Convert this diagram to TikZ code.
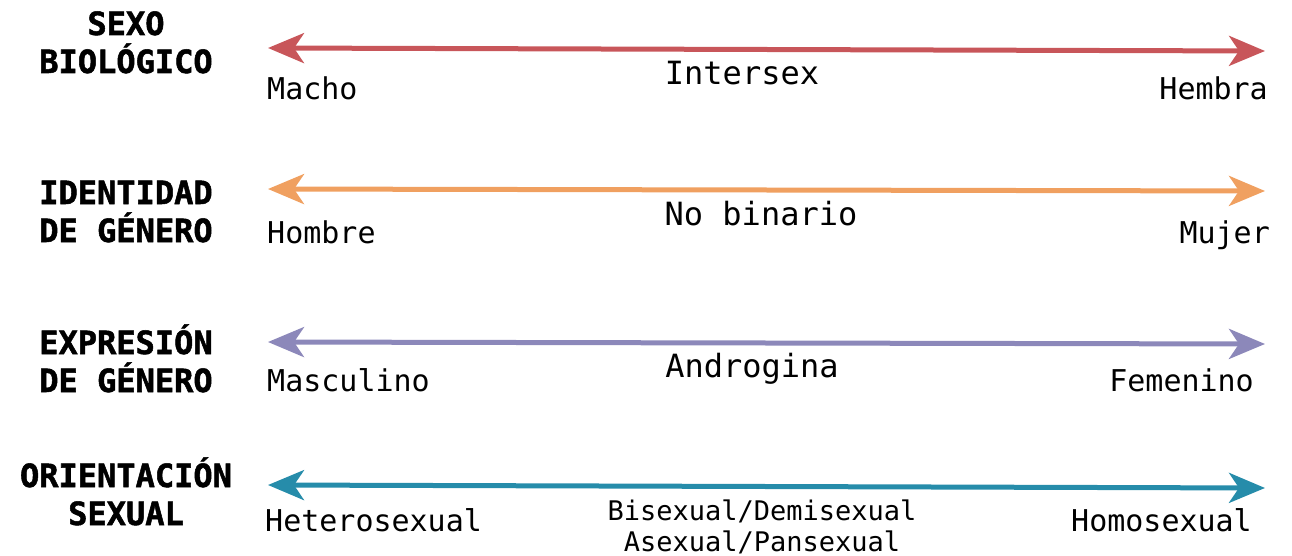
\documentclass[tikz,border=0pt]{standalone}
\usepackage{fontspec}
\setmonofont{DejaVu Sans Mono}
\newfontfamily\headfont{DejaVu Sans Mono Bold}[FakeBold=1.6]
\usepackage{xcolor}
\usetikzlibrary{arrows.meta}

\definecolor{sexred}{RGB}{200,86,90}
\definecolor{idorange}{RGB}{240,160,96}
\definecolor{exppurple}{RGB}{140,136,186}
\definecolor{oriteal}{RGB}{38,140,170}

\begin{document}
\begin{tikzpicture}[
x=1pt, y=-1pt,
    title/.style = {font=\headfont\fontsize{32}{38}\selectfont,
        align=center, anchor=base, inner sep=0pt},
    endlbl/.style = {font=\ttfamily\fontsize{30}{34}\selectfont, inner sep=0pt},
    midlbl/.style = {font=\ttfamily\fontsize{32}{38}\selectfont, anchor=base, inner sep=0pt},
    smalllbl/.style = {font=\ttfamily\fontsize{27}{31}\selectfont, align=center, anchor=base, inner sep=0pt},
    spectrum/.style = {draw=#1, line width=5pt,
        {Stealth[length=36pt, width=30pt, inset=10pt]}-{Stealth[length=36pt, width=30pt, inset=10pt]}},
]
\useasboundingbox (0,0) rectangle (1292,556);

% Sexo biologico
\node[title] (SexT) at (126,73) {SEXO\\BIOLÓGICO};
\coordinate (SexL) at (268,48);
\coordinate (SexR) at (1265,51);
\draw[spectrum=sexred] (SexL) -- (SexR);
\node[endlbl, anchor=base west] (SexA) at (267,100) {Macho};
\node[midlbl] (SexM) at (742,85) {Intersex};
\node[endlbl, anchor=base east] (SexB) at (1268,100) {Hembra};

% Identidad de genero
\node[title] (IdT) at (126,242) {IDENTIDAD\\DE GÉNERO};
\coordinate (IdL) at (268,189);
\coordinate (IdR) at (1265,191);
\draw[spectrum=idorange] (IdL) -- (IdR);
\node[endlbl, anchor=base west] (IdA) at (267,243) {Hombre};
\node[midlbl] (IdM) at (761,225) {No binario};
\node[endlbl, anchor=base east] (IdB) at (1270,243) {Mujer};

% Expresion de genero
\node[title] (ExpT) at (126,392) {EXPRESIÓN\\DE GÉNERO};
\coordinate (ExpL) at (268,342);
\coordinate (ExpR) at (1265,344);
\draw[spectrum=exppurple] (ExpL) -- (ExpR);
\node[endlbl, anchor=base west] (ExpA) at (267,391) {Masculino};
\node[midlbl] (ExpM) at (752,377) {Androgina};
\node[endlbl, anchor=base east] (ExpB) at (1254,391) {Femenino};

% Orientacion sexual
\node[title] (OriT) at (126,525) {ORIENTACIÓN\\SEXUAL};
\coordinate (OriL) at (268,485);
\coordinate (OriR) at (1265,488);
\draw[spectrum=oriteal] (OriL) -- (OriR);
\node[endlbl, anchor=base west] (OriA) at (265,531) {Heterosexual};
\node[smalllbl] (OriM) at (762,551) {Bisexual/Demisexual\\Asexual/Pansexual};
\node[endlbl, anchor=base east] (OriB) at (1252,531) {Homosexual};

\end{tikzpicture}
\end{document}
